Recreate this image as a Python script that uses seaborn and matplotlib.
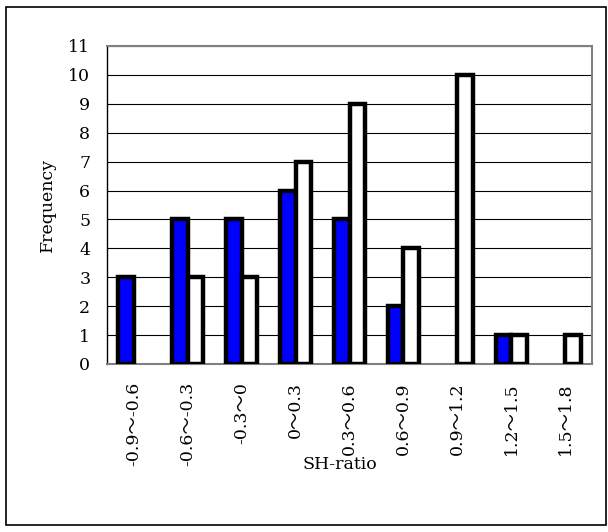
import matplotlib
matplotlib.use("Agg")
import matplotlib.pyplot as plt
import seaborn as sns
import pandas as pd
import numpy as np
from matplotlib.patches import Rectangle

categories = ["-0.9～-0.6", "-0.6～-0.3", "-0.3～0", "0～0.3", "0.3～0.6",
              "0.6～0.9", "0.9～1.2", "1.2～1.5", "1.5～1.8"]
series_a = [3, 5, 5, 6, 5, 2, 0, 1, 0]
series_b = [0, 3, 3, 7, 9, 4, 10, 1, 1]
series_names = ["A", "B"]
y_ticks = list(range(0, 12))

sns.set_theme(style="white")
plt.rcParams['font.family'] = ['DejaVu Serif', 'Noto Sans CJK JP']
plt.rcParams['text.color'] = 'black'
plt.rcParams['axes.labelcolor'] = 'black'
plt.rcParams['xtick.color'] = 'black'
plt.rcParams['ytick.color'] = 'black'

df = pd.DataFrame({
    "cat": categories * 2,
    "val": series_a + series_b,
    "series": [series_names[0]] * len(categories) + [series_names[1]] * len(categories),
})

FS = 12.5
fig = plt.figure(figsize=(6.08, 5.32), dpi=100)
fig.patches.append(Rectangle((6/608, 1 - 525/532), 600/608, 518/532,
                             transform=fig.transFigure, fill=False,
                             edgecolor="black", linewidth=1.2, zorder=0))
ax = fig.add_axes([107/608, 1 - 364/532, 485/608, 318/532])

sns.barplot(data=df, x="cat", y="val", hue="series", order=categories,
            palette={"A": "#0000FF", "B": "#FFFFFF"}, width=0.58, saturation=1,
            edgecolor="black", linewidth=3.2, ax=ax, legend=False, zorder=3)
for p in ax.patches:
    if p.get_height() == 0:
        p.set_visible(False)

ax.set_ylim(0, 11)
ax.set_xlim(-0.5, len(categories) - 0.5)
ax.set_yticks(y_ticks)
ax.set_yticklabels([str(t) for t in y_ticks], fontsize=FS)
ax.yaxis.grid(True, color="black", linewidth=0.8)
ax.set_axisbelow(True)

ax.set_xticks(range(len(categories)))
ax.set_xticklabels(categories, rotation=90, fontsize=FS)
ax.tick_params(axis="x", which="major", length=0, pad=13)
ax.set_xticks(np.arange(0.5, len(categories) - 0.5, 1), minor=True)
ax.tick_params(axis="x", which="minor", direction="in", length=5, color="#555555", width=0.8)
ax.tick_params(axis="y", which="major", direction="in", length=4, color="black", width=0.8, pad=12)

for side in ["top", "right", "bottom"]:
    ax.spines[side].set_color("#808080")
    ax.spines[side].set_linewidth(1.5)
ax.spines["left"].set_color("black")
ax.spines["left"].set_linewidth(1.0)

ax.set_xlabel("SH-ratio", fontsize=FS)
ax.xaxis.set_label_coords(0.48, (364 - 456) / 318)
ax.set_ylabel("Frequency", fontsize=FS, labelpad=9)

fig.savefig("out.png", dpi=100)
